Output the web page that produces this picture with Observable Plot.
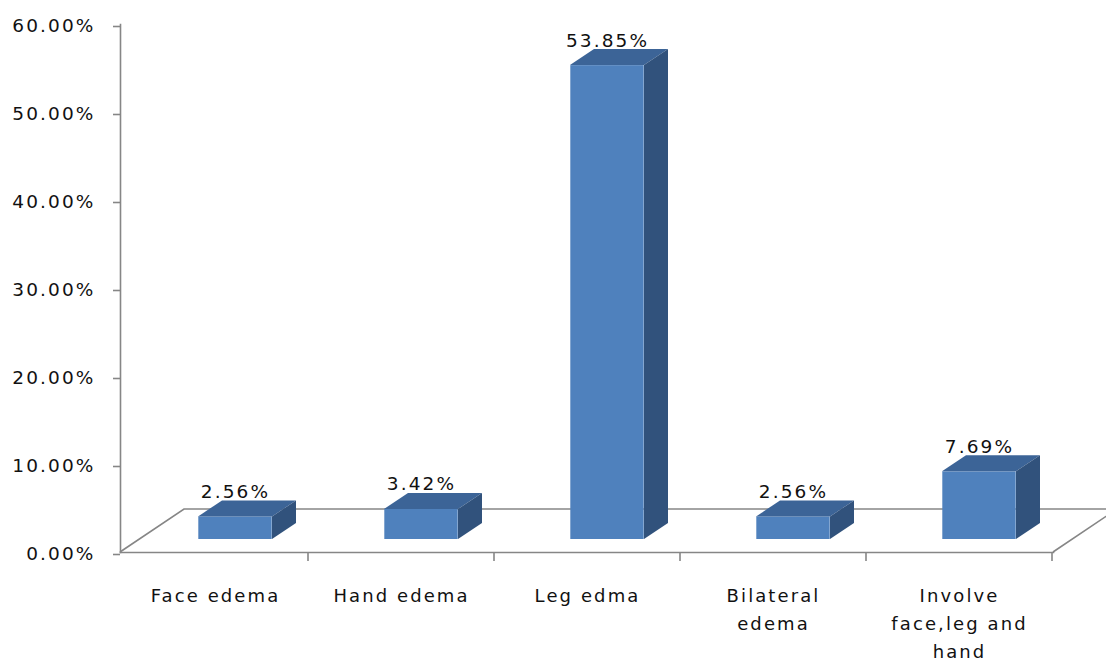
<!DOCTYPE html>
<html><head><meta charset="utf-8">
<script src="https://cdn.jsdelivr.net/npm/d3@7"></script>
<script src="https://cdn.jsdelivr.net/npm/@observablehq/plot@0.6"></script>
<style>
html,body{margin:0;padding:0;background:#fff;}
#chart svg{display:block;}
</style></head><body><div id="chart"></div>
<script>
const categories = ["Face edema", "Hand edema", "Leg edma", "Bilateral edema", "Involve face,leg and hand"];
const tickLabels = ["Face edema", "Hand edema", "Leg edma", "Bilateral\nedema", "Involve\nface,leg and\nhand"];
const values = [2.56, 3.42, 53.85, 2.56, 7.69];
const valueLabels = ["2.56%", "3.42%", "53.85%", "2.56%", "7.69%"];
const yTicks = [0, 10, 20, 30, 40, 50, 60];

const data = categories.map((c, i) => ({cat: c, value: values[i], label: valueLabels[i], tick: tickLabels[i]}));

const DX = 20, DY = -13;   // bar placement inside floor depth
const BX = 24, BY = -16;   // bar depth
const FX = 64, FY = -43;   // floor depth
const HALF = 37;           // half bar width (px)
const FRONT = "#4F81BD", TOP = "#3C6497", SIDE = "#31527C", GRID = "#868686", INK = "#111";

function bw(scales) {
  const x = scales.x;
  return x.bandwidth ? x.bandwidth() : 186.6;
}

// floor parallelogram + category boundary ticks
const floorMark = (index, scales, vals, dims) => {
  const g = d3.create("svg:g");
  const x0 = dims.marginLeft, x1 = dims.width - dims.marginRight, y0 = scales.y(0);
  g.append("path")
    .attr("fill", "none").attr("stroke", GRID).attr("stroke-width", 1.6)
    .attr("d", `M${x0},${y0}L${x0 + FX},${y0 + FY}L${x1 + FX + 40},${y0 + FY}M${x1},${y0}L${x1 + FX},${y0 + FY}`);
  const w = bw(scales);
  const ticks = categories.map(c => scales.x(c) + w);
  g.selectAll("line").data(ticks).join("line")
    .attr("x1", d => d).attr("x2", d => d)
    .attr("y1", y0).attr("y2", y0 + 9)
    .attr("stroke", GRID).attr("stroke-width", 1.6);
  return g.node();
};

// top and side faces of the 3D bars
const facesMark = (index, scales, vals, dims) => {
  const g = d3.create("svg:g");
  const w = bw(scales);
  const y0 = scales.y(0) + DY;
  for (const d of data) {
    const cx = scales.x(d.cat) + w / 2 + DX;
    const xl = cx - HALF, xr = cx + HALF;
    const yt = scales.y(d.value) + DY;
    g.append("path").attr("fill", TOP)
      .attr("d", `M${xl},${yt}L${xr},${yt}L${xr + BX},${yt + BY}L${xl + BX},${yt + BY}Z`);
    g.append("path").attr("fill", SIDE)
      .attr("d", `M${xr},${yt}L${xr + BX},${yt + BY}L${xr + BX},${y0 + BY}L${xr},${y0}Z`);
  }
  return g.node();
};

const chart = Plot.plot({
  width: 1106,
  height: 664,
  marginLeft: 120,
  marginRight: 53,
  marginTop: 24,
  marginBottom: 112,
  style: {fontFamily: "DejaVu Sans", fontSize: "18px", letterSpacing: "2.1px", color: INK, background: "#fff", overflow: "hidden"},
  x: {type: "band", domain: categories, padding: 0, axis: null},
  y: {domain: [0, 60], axis: null},
  marks: [
    floorMark,
    Plot.frame({anchor: "left", stroke: GRID, strokeWidth: 1.6}),
    Plot.frame({anchor: "bottom", stroke: GRID, strokeWidth: 1.6}),
    Plot.axisY(yTicks, {
      tickSize: 7, tickPadding: 18, stroke: GRID, strokeWidth: 1.6, dy: 2,
      tickFormat: d => d.toFixed(2) + "%", fontSize: 18.5, label: null
    }),
    Plot.barY(data, {x: "cat", y: "value", fill: FRONT, dx: DX, dy: DY, insetLeft: 56.3, insetRight: 56.3}),
    facesMark,
    Plot.text(data, {x: "cat", y: "value", text: "label", dx: DX, dy: DY + BY - 3, lineAnchor: "bottom", fontSize: 18.5, fill: INK}),
    Plot.text(data, {x: "cat", text: "tick", frameAnchor: "bottom", lineAnchor: "top", dy: 30, lineHeight: 1.55, fontSize: 18, fill: INK, letterSpacing: "1.8px"})
  ]
});
document.getElementById("chart").appendChild(chart);
</script>
</body></html>
